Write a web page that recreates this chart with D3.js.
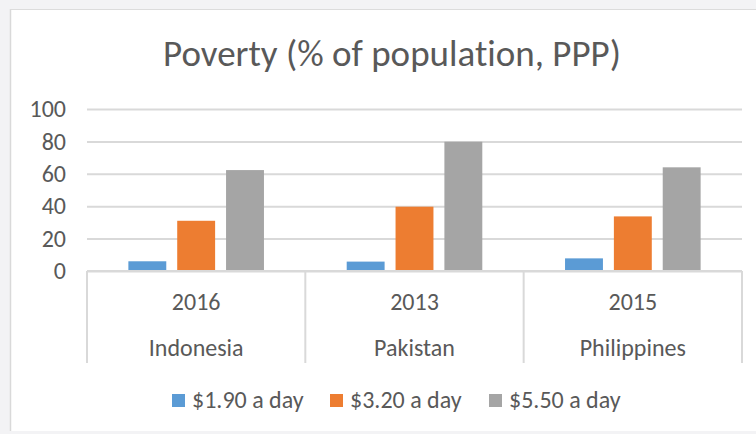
<!DOCTYPE html>
<html>
<head>
  <meta charset="utf-8">
  <title>Poverty chart</title>
  <script src="https://d3js.org/d3.v7.min.js"></script>
  <style>
    body { margin: 0; background: #f3f3f5; }
    svg { display: block; }
    text { font-family: Carlito, "Noto Sans", sans-serif; fill: #595959; font-variant-ligatures: none; }
  </style>
</head>
<body>
  <div id="chart"></div>
  <script>
    // data
    var countries = ["Indonesia", "Pakistan", "Philippines"];
    var years = ["2016", "2013", "2015"];
    var seriesNames = ["$1.90 a day", "$3.20 a day", "$5.50 a day"];
    var colors = ["#5b9bd5", "#ed7d31", "#a5a5a5"];
    var usd190 = [6.0, 5.8, 7.8];
    var usd320 = [31.0, 39.7, 33.7];
    var usd550 = [62.3, 79.8, 64.0];
    var yTicks = [0, 20, 40, 60, 80, 100];

    var W = 756, H = 434;
    var margin = { top: 109, right: 14, bottom: 163, left: 87 };
    var width = W - margin.left - margin.right,
      height = H - margin.top - margin.bottom;

    var svg = d3.select("#chart").append("svg")
      .attr("width", W).attr("height", H);

    // white chart area with thin border on top/left
    svg.append("rect").attr("x", 10).attr("y", 10)
      .attr("width", W - 10).attr("height", 421)
      .attr("fill", "#fff");
    svg.append("line").attr("x1", 10.5).attr("x2", 10.5).attr("y1", 9).attr("y2", 431)
      .attr("stroke", "#d9d9d9").attr("stroke-width", 1.5);
    svg.append("line").attr("x1", 10).attr("x2", W).attr("y1", 9.5).attr("y2", 9.5)
      .attr("stroke", "#dcdcdc").attr("stroke-width", 1);

    svg.append("text")
      .attr("x", 392).attr("y", 66)
      .attr("text-anchor", "middle")
      .style("font-size", "37px")
      .text("Poverty (% of population, PPP)");

    var g = svg.append("g").attr("transform", "translate(" + margin.left + "," + margin.top + ")");

    var y = d3.scaleLinear().domain([0, 100]).range([height, 0]);
    var x0 = d3.scaleBand().domain(countries).range([0, width]).paddingInner(0).paddingOuter(0);
    var x1 = d3.scaleBand().domain(seriesNames).range([0, x0.bandwidth()])
      .paddingInner(0.224).paddingOuter(0.847);

    // gridlines
    g.append("g")
      .call(d3.axisLeft(y).tickValues(yTicks).tickSize(-width).tickFormat(""))
      .call(function (a) { a.select(".domain").remove(); })
      .selectAll("line").attr("stroke", "#d9d9d9").attr("stroke-width", 2);

    // y tick labels
    g.append("g")
      .call(d3.axisLeft(y).tickValues(yTicks).tickSize(0).tickPadding(21))
      .call(function (a) { a.select(".domain").remove(); })
      .selectAll("text")
      .style("font-size", "24px").style("fill", "#595959")
      .style("font-family", "Carlito, 'Noto Sans', sans-serif");

    var series = [usd190, usd320, usd550];
    var groups = g.selectAll(".grp").data(countries).enter().append("g")
      .attr("transform", function (d) { return "translate(" + x0(d) + ",0)"; });

    groups.selectAll("rect")
      .data(function (d, i) {
        return seriesNames.map(function (s, j) { return { s: s, v: series[j][i], c: colors[j] }; });
      })
      .enter().append("rect")
      .attr("x", function (d) { return x1(d.s); })
      .attr("width", x1.bandwidth())
      .attr("y", function (d) { return y(d.v); })
      .attr("height", function (d) { return height - y(d.v); })
      .attr("fill", function (d) { return d.c; });

    // category axis: baseline, dividers, two rows of labels
    var axisG = g.append("g").attr("transform", "translate(0," + height + ")");
    axisG.append("line").attr("x1", 0).attr("x2", width).attr("y1", 0).attr("y2", 0)
      .attr("stroke", "#d9d9d9").attr("stroke-width", 2);
    var divs = [0].concat(countries.map(function (c) { return x0(c) + x0.bandwidth(); }));
    axisG.selectAll(".div").data(divs).enter().append("line")
      .attr("x1", function (d) { return d; }).attr("x2", function (d) { return d; })
      .attr("y1", 0).attr("y2", 92)
      .attr("stroke", "#d9d9d9").attr("stroke-width", 2);
    axisG.selectAll(".yr").data(years).enter().append("text")
      .attr("x", function (d, i) { return x0(countries[i]) + x0.bandwidth() / 2; })
      .attr("y", 39).attr("text-anchor", "middle")
      .style("font-size", "24px").text(function (d) { return d; });
    axisG.selectAll(".ct").data(countries).enter().append("text")
      .attr("x", function (d) { return x0(d) + x0.bandwidth() / 2; })
      .attr("y", 85).attr("text-anchor", "middle")
      .style("font-size", "24px").text(function (d) { return d; });

    // legend
    var legX = [172, 330, 489];
    var leg = svg.selectAll(".leg").data(seriesNames).enter().append("g")
      .attr("transform", function (d, i) { return "translate(" + legX[i] + ",394)"; });
    leg.append("rect").attr("width", 13).attr("height", 13)
      .attr("fill", function (d, i) { return colors[i]; });
    leg.append("text").attr("x", 20).attr("y", 14)
      .style("font-size", "24px").text(function (d) { return d; });
  </script>
</body>
</html>
